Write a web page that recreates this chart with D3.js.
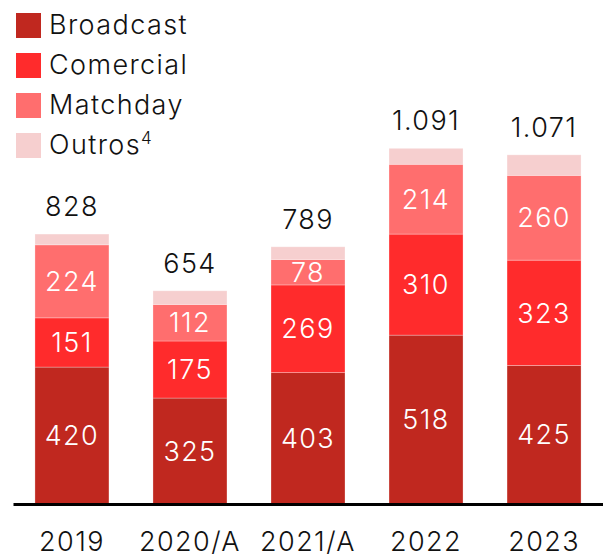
<!DOCTYPE html>
<html>
<head>
<meta charset="utf-8">
<script src="https://cdn.jsdelivr.net/npm/d3@7"></script>
<style>
  body { margin: 0; background: #fff; }
  svg text { font-family: "Inter", "DejaVu Sans", sans-serif; font-weight: 300; letter-spacing: 1.4px; }
</style>
</head>
<body>
<svg id="graph" width="603" height="555"></svg>
<script>
const years = ["2019", "2020/A", "2021/A", "2022", "2023"];
const broadcast = [420, 325, 403, 518, 425];
const comercial = [151, 175, 269, 310, 323];
const matchday = [224, 112, 78, 214, 260];
const outros = [33, 42, 39, 49, 63];
const totals = [828, 654, 789, 1091, 1071];

const seriesNames = ["Broadcast", "Comercial", "Matchday", "Outros"];
const colors = ["#c0281f", "#ff2b2c", "#ff6e6e", "#f6cfcf"];

const table = years.map((y, i) => ({
    year: y,
    Broadcast: broadcast[i],
    Comercial: comercial[i],
    Matchday: matchday[i],
    Outros: outros[i],
    total: totals[i]
}));

const ptBR = d3.formatLocale({ decimal: ",", thousands: ".", grouping: [3], currency: ["R$", ""] });
const fmt = ptBR.format(",d");

const svg = d3.select("#graph");
const baseY = 504;

const x = d3.scaleBand()
    .domain(years)
    .range([13, 603])
    .paddingInner(0.373)
    .paddingOuter(0.186);

const y = d3.scaleLinear()
    .domain([0, 1100])
    .range([baseY, baseY - 1100 * 0.326]);

const stack = d3.stack().keys(seriesNames);
const layers = stack(table);

// Bars
const layer = svg.selectAll(".layer")
    .data(layers)
    .enter().append("g")
        .attr("class", "layer")
        .attr("fill", (d, i) => colors[i]);

layer.selectAll("rect")
    .data(d => d)
    .enter().append("rect")
        .attr("x", d => x(d.data.year))
        .attr("y", d => y(d[1]))
        .attr("width", x.bandwidth())
        .attr("height", d => y(d[0]) - y(d[1]))
        .attr("stroke", "#ffffff")
        .attr("stroke-opacity", 0.35)
        .attr("stroke-width", 0.8);

// Segment labels (not for Outros)
layers.slice(0, 3).forEach(l => {
    svg.append("g").selectAll("text")
        .data(l)
        .enter().append("text")
            .attr("x", d => x(d.data.year) + x.bandwidth() / 2)
            .attr("y", d => (y(d[0]) + y(d[1])) / 2)
            .attr("dy", "0.36em")
            .attr("text-anchor", "middle")
            .attr("fill", "#fff")
            .style("font-size", "27px")
            .text(d => fmt(d[1] - d[0]));
});

// Totals above bars
svg.append("g").selectAll("text")
    .data(table)
    .enter().append("text")
        .attr("x", d => x(d.year) + x.bandwidth() / 2)
        .attr("y", d => y(d.total) - 18)
        .attr("text-anchor", "middle")
        .attr("fill", "#111")
        .style("font-size", "27px")
        .text(d => fmt(d.total));

// X axis
const xAxis = svg.append("g")
    .attr("transform", `translate(0,${baseY})`)
    .call(d3.axisBottom(x).tickSize(0).tickSizeOuter(0));

xAxis.select(".domain")
    .attr("stroke", "#000")
    .attr("stroke-width", 3);

xAxis.selectAll(".tick text")
    .attr("y", 47)
    .attr("dy", 0)
    .attr("fill", "#111")
    .style("font-size", "27px")
    .style("font-family", "Inter, 'DejaVu Sans', sans-serif");

// Legend
const legend = svg.append("g").attr("transform", "translate(16,13)");
seriesNames.forEach((name, i) => {
    const row = legend.append("g").attr("transform", `translate(0,${i * 40})`);
    row.append("rect")
        .attr("width", 25)
        .attr("height", 25)
        .attr("fill", colors[i]);
    const t = row.append("text")
        .attr("x", 33)
        .attr("y", 21)
        .attr("fill", "#111")
        .style("font-size", "27px")
        .text(name);
    if (name === "Outros") {
        t.append("tspan")
            .attr("dy", -10)
            .style("font-size", "17px")
            .text("4");
    }
});
</script>
</body>
</html>
